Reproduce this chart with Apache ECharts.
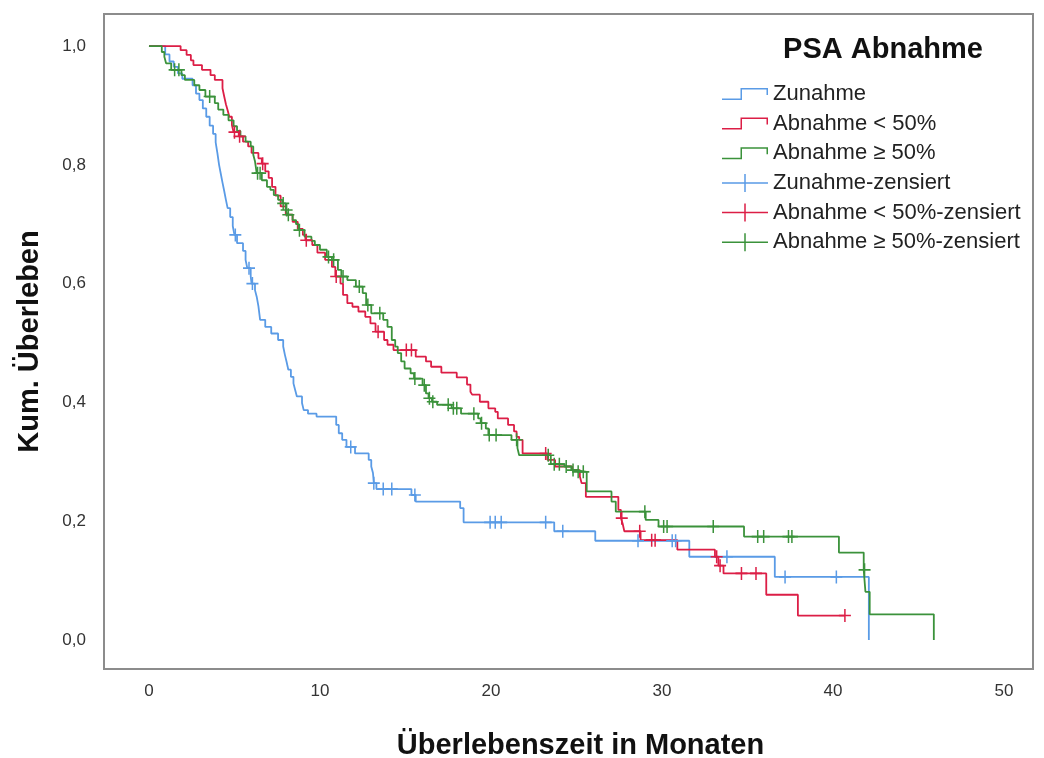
<!DOCTYPE html>
<html>
<head>
<meta charset="utf-8">
<title>PSA Abnahme – Kaplan-Meier</title>
<script src="https://cdn.jsdelivr.net/npm/echarts@6/dist/echarts.min.js"></script>
<style>
  html, body { margin: 0; padding: 0; background: #fff; }
  #chart { width: 1044px; height: 758px; }
</style>
</head>
<body>
<div id="chart"></div>
<script>
// tick labels
const xTicks = [0, 10, 20, 30, 40, 50]
const yTicks = [0, 0.2, 0.4, 0.6, 0.8, 1.0]

const groups = ['Zunahme', 'Abnahme < 50%', 'Abnahme ≥ 50%']

// Zunahme: event times (months) and survival after each event
const blueTime = [0, 0.95, 1.2, 1.45, 1.7, 1.95, 2.55, 2.75, 2.95, 3.15, 3.35, 3.55, 3.75, 3.9, 4.0, 4.1, 4.2, 4.3, 4.4, 4.5,
  4.6, 4.75, 4.9, 5.0, 5.15, 5.5, 5.65, 5.75, 5.95, 6.0, 6.2, 6.3, 6.4, 6.5, 6.8, 7.15, 7.55, 7.85, 7.95, 8.05,
  8.15, 8.3, 8.45, 8.55, 8.65, 8.95, 9.05, 9.3, 9.8, 10.95, 11.1, 11.3, 11.55, 12.05, 12.85, 13.0, 13.1, 13.15, 13.3, 15.35,
  15.6, 18.2, 18.4, 23.7, 26.1, 31.6, 36.6, 42.1]
const blueSurv = [1, 0.986, 0.974, 0.965, 0.954, 0.945, 0.934, 0.92, 0.909, 0.895, 0.881, 0.866, 0.852, 0.838, 0.82, 0.80, 0.785, 0.77, 0.756, 0.741,
  0.727, 0.712, 0.697, 0.682, 0.668, 0.655, 0.64, 0.626, 0.612, 0.60, 0.589, 0.578, 0.562, 0.539, 0.527, 0.516, 0.505, 0.494, 0.48, 0.468,
  0.455, 0.443, 0.432, 0.421, 0.41, 0.399, 0.387, 0.381, 0.376, 0.362, 0.348, 0.337, 0.325, 0.314, 0.303, 0.292, 0.281, 0.264, 0.254, 0.244,
  0.233, 0.222, 0.198, 0.183, 0.167, 0.14, 0.106, 0]
const blueCensTime = [5.05, 5.85, 6.05, 11.8, 13.15, 13.7, 14.2, 15.55, 19.95, 20.25, 20.6, 23.2, 24.2, 28.6, 30.6, 30.8, 33.8, 37.2, 40.2]
const blueCensSurv = [0.682, 0.626, 0.60, 0.325, 0.264, 0.254, 0.254, 0.244, 0.198, 0.198, 0.198, 0.198, 0.183, 0.167, 0.167, 0.167, 0.14, 0.106, 0.106]

// Abnahme < 50%
const redTime = [0, 1.85, 2.2, 2.45, 2.6, 3.1, 3.6, 3.85, 4.3, 4.4, 4.5, 4.6, 4.7, 4.85, 4.95, 5.25, 5.5, 5.8, 6.0, 6.4,
  6.6, 6.8, 7.0, 7.2, 7.4, 7.7, 8.0, 8.4, 8.7, 9.0, 9.15, 9.55, 9.85, 10.3, 10.7, 10.9, 11.2, 11.35, 11.6, 11.9,
  12.25, 12.65, 12.95, 13.25, 13.75, 13.95, 14.3, 15.6, 16.2, 16.5, 17.1, 18.0, 18.6, 18.8, 18.9, 19.35, 19.85, 20.25, 20.4, 21.0,
  21.35, 21.5, 21.65, 21.85, 23.3, 23.75, 24.75, 25.2, 25.3, 25.55, 27.45, 27.6, 27.7, 27.8, 28.75, 30.9, 33.1, 33.3, 33.6, 36.1,
  37.95, 40.7]
const redSurv = [1, 0.993, 0.985, 0.976, 0.968, 0.96, 0.951, 0.943, 0.929, 0.915, 0.902, 0.892, 0.881, 0.867, 0.855, 0.848, 0.839, 0.831, 0.82, 0.811,
  0.802, 0.789, 0.778, 0.763, 0.748, 0.73, 0.716, 0.704, 0.692, 0.682, 0.673, 0.665, 0.652, 0.64, 0.628, 0.612, 0.60, 0.581, 0.567, 0.561,
  0.553, 0.544, 0.533, 0.519, 0.505, 0.497, 0.488, 0.477, 0.469, 0.46, 0.45, 0.442, 0.43, 0.418, 0.413, 0.401, 0.39, 0.384, 0.373, 0.362,
  0.351, 0.342, 0.337, 0.314, 0.303, 0.292, 0.286, 0.275, 0.264, 0.241, 0.219, 0.205, 0.196, 0.183, 0.168, 0.152, 0.14, 0.125, 0.112, 0.076,
  0.041, 0.041]
const redCensTime = [5.0, 5.3, 6.65, 9.2, 10.95, 13.4, 15.05, 15.35, 23.2, 27.65, 28.7, 29.4, 29.6, 33.2, 33.4, 34.65, 35.5, 40.7]
const redCensSurv = [0.855, 0.848, 0.802, 0.673, 0.612, 0.519, 0.488, 0.488, 0.314, 0.205, 0.183, 0.168, 0.168, 0.14, 0.125, 0.112, 0.112, 0.041]

// Abnahme >= 50%
const greenTime = [0, 0.75, 0.9, 1.0, 1.3, 1.9, 2.1, 2.65, 2.95, 3.3, 3.85, 4.05, 4.35, 4.65, 4.95, 5.15, 5.35, 5.65, 5.95, 6.1,
  6.2, 6.3, 6.6, 6.9, 7.1, 7.3, 7.55, 7.8, 8.0, 8.1, 8.4, 8.6, 8.75, 9.1, 9.5, 9.7, 10.0, 10.4, 10.7, 11.05,
  11.25, 11.6, 12.1, 12.5, 12.7, 13.0, 13.7, 13.95, 14.2, 14.4, 14.55, 14.75, 14.95, 15.3, 15.5, 16.0, 16.2, 16.35, 16.55, 16.85,
  17.7, 18.25, 19.25, 19.4, 19.7, 19.85, 21.2, 21.55, 21.65, 23.5, 24.3, 24.7, 25.0, 25.6, 27.05, 27.3, 29.05, 29.8, 34.8, 40.35,
  41.8, 41.9, 42.15, 45.9]
const greenSurv = [1, 0.99, 0.982, 0.971, 0.96, 0.951, 0.943, 0.934, 0.926, 0.915, 0.904, 0.893, 0.884, 0.875, 0.865, 0.857, 0.848, 0.839, 0.831, 0.817,
  0.806, 0.786, 0.774, 0.763, 0.758, 0.749, 0.741, 0.735, 0.724, 0.716, 0.707, 0.70, 0.69, 0.679, 0.672, 0.665, 0.657, 0.645, 0.64, 0.623,
  0.612, 0.606, 0.595, 0.584, 0.564, 0.55, 0.539, 0.527, 0.505, 0.494, 0.483, 0.469, 0.457, 0.449, 0.44, 0.429, 0.415, 0.407, 0.401, 0.396,
  0.39, 0.381, 0.373, 0.365, 0.356, 0.345, 0.337, 0.323, 0.311, 0.296, 0.292, 0.286, 0.283, 0.25, 0.233, 0.216, 0.202, 0.191, 0.174, 0.147,
  0.118, 0.081, 0.043, 0]
const greenCensTime = [1.5, 1.75, 3.55, 6.35, 6.5, 7.85, 8.05, 8.15, 8.8, 10.5, 10.8, 11.35, 12.3, 12.8, 13.5, 15.55, 16.1, 16.4, 16.6, 17.5,
  17.8, 18.0, 19.0, 19.45, 19.9, 20.3, 21.5, 23.35, 23.7, 24.0, 24.4, 24.8, 25.1, 25.4, 29.0, 30.1, 30.3, 33.0, 35.6, 35.95,
  37.4, 37.6, 41.85]
const greenCensSurv = [0.96, 0.96, 0.915, 0.786, 0.786, 0.735, 0.724, 0.716, 0.69, 0.645, 0.64, 0.612, 0.595, 0.564, 0.55, 0.44, 0.429, 0.407, 0.401, 0.396,
  0.39, 0.39, 0.381, 0.365, 0.345, 0.345, 0.337, 0.311, 0.296, 0.296, 0.292, 0.286, 0.283, 0.283, 0.216, 0.191, 0.191, 0.191, 0.174, 0.174,
  0.174, 0.174, 0.118]

const colors = ['#5a9be6', '#dc1e46', '#3b923b']
const FONT = "'Liberation Sans', Arial, sans-serif"

const pairs = (t, s) => t.map((v, i) => [v, s[i]])

const stepIcon = 'path://M0,10.5h20v1.5h-20z M18.5,0h1.5v12h-1.5z M18.5,0h27.5v1.5h-27.5z M44.5,0h1.5v7h-1.5z'
const plusIcon = 'path://M22.25,0h1.5v18h-1.5z M0,8.25h46v1.5h-46z'
const censorSymbol = 'path://M5.25,0h1.5v12h-1.5z M0,5.25h12v1.5h-12z'

const curves = [pairs(blueTime, blueSurv), pairs(redTime, redSurv), pairs(greenTime, greenSurv)]
const censored = [
  pairs(blueCensTime, blueCensSurv),
  pairs(redCensTime, redCensSurv),
  pairs(greenCensTime, greenCensSurv)
]

const chart = echarts.init(document.getElementById('chart'))

const lineSeries = groups.map((g, i) => ({
  name: g,
  type: 'line',
  step: 'end',
  data: curves[i],
  showSymbol: false,
  symbol: 'none',
  animation: false,
  lineStyle: { color: colors[i], width: 1.8 },
  itemStyle: { color: colors[i] },
  z: 2
}))

const censorSeries = groups.map((g, i) => ({
  name: g + '-zensiert',
  type: 'scatter',
  data: censored[i],
  symbol: censorSymbol,
  symbolSize: [12, 13],
  animation: false,
  itemStyle: { color: colors[i], opacity: 1 },
  z: 3
}))

const legendText = { fontFamily: FONT, fontSize: 22, color: '#222', lineHeight: 22 }

const option = {
  animation: false,
  textStyle: { fontFamily: FONT },
  title: {
    text: 'PSA Abnahme',
    left: 878,
    top: 30,
    textAlign: 'center',
    textStyle: { fontFamily: FONT, fontSize: 29, fontWeight: 'bold', color: '#111' }
  },
  legend: [
    {
      orient: 'vertical',
      left: 722,
      top: 83,
      padding: 0,
      itemGap: 7.6,
      itemWidth: 46,
      itemHeight: 12,
      textStyle: legendText,
      data: groups.map((g, i) => ({ name: g, icon: stepIcon, itemStyle: { color: colors[i] } })),
      selectedMode: false
    },
    {
      orient: 'vertical',
      left: 722,
      top: 172,
      padding: 0,
      itemGap: 7.6,
      itemWidth: 46,
      itemHeight: 18,
      textStyle: legendText,
      data: groups.map((g, i) => ({ name: g + '-zensiert', icon: plusIcon, itemStyle: { color: colors[i] } })),
      selectedMode: false
    }
  ],
  grid: {
    left: 104,
    top: 14,
    right: 11,
    bottom: 89,
    outerBoundsMode: 'none',
    containLabel: false,
    show: true,
    borderColor: '#8c8c8c',
    borderWidth: 2,
    backgroundColor: 'transparent'
  },
  xAxis: {
    type: 'value',
    min: -2.63,
    max: 51.7,
    name: 'Überlebenszeit in Monaten',
    nameLocation: 'middle',
    nameGap: 62,
    nameTextStyle: { fontFamily: FONT, fontSize: 29, fontWeight: 'bold', color: '#111', padding: [0, 0, 0, 24] },
    axisLine: { show: false },
    axisTick: { show: false },
    splitLine: { show: false },
    axisLabel: {
      customValues: xTicks,
      margin: 14,
      fontFamily: FONT,
      fontSize: 17,
      color: '#333',
      formatter: v => String(v)
    }
  },
  yAxis: {
    type: 'value',
    min: -0.049,
    max: 1.054,
    name: 'Kum. Überleben',
    nameLocation: 'middle',
    nameGap: 60,
    nameRotate: 90,
    nameTextStyle: { fontFamily: FONT, fontSize: 29, fontWeight: 'bold', color: '#111' },
    axisLine: { show: false },
    axisTick: { show: false },
    splitLine: { show: false },
    axisLabel: {
      customValues: yTicks,
      margin: 18,
      fontFamily: FONT,
      fontSize: 17,
      color: '#333',
      formatter: v => v.toFixed(1).replace('.', ',')
    }
  },
  series: [...lineSeries, ...censorSeries]
}

chart.setOption(option)
</script>
</body>
</html>
